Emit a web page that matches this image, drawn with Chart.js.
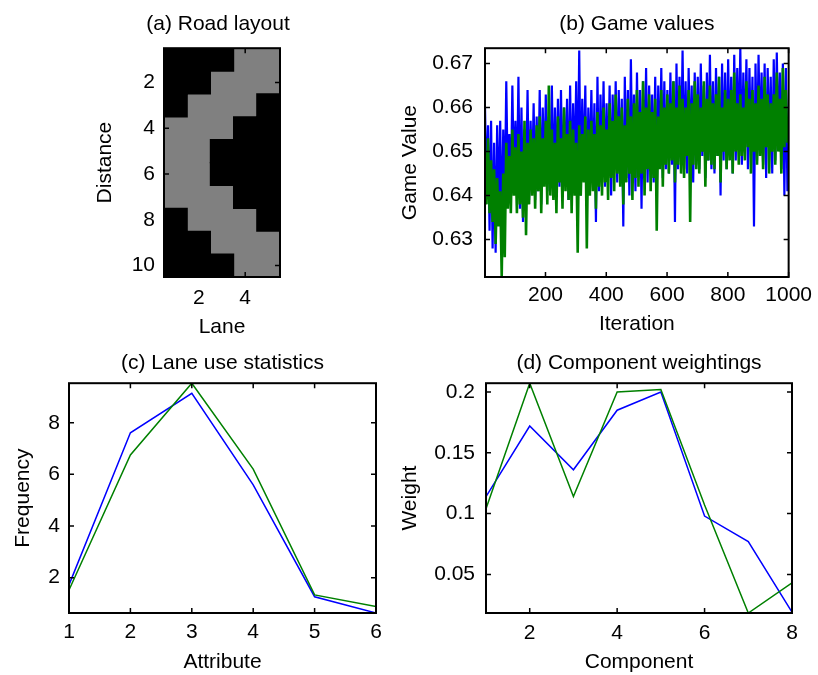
<!DOCTYPE html>
<html>
<head>
<meta charset="utf-8">
<script src="https://cdn.jsdelivr.net/npm/chart.js@4"></script>
<style>
  body { margin: 0; background: #fff; width: 818px; height: 675px; position: relative; overflow: hidden; }
  canvas { position: absolute; }
</style>
</head>
<body>
<canvas id="road" width="436" height="340" style="left:0;top:0"></canvas>
<canvas id="game" width="423" height="340" style="left:395px;top:0"></canvas>
<canvas id="lanes" width="395" height="335" style="left:0;top:340px"></canvas>
<canvas id="weights" width="423" height="335" style="left:395px;top:340px"></canvas>
<script>
// (a) road layout: 1 = road (grey), 0 = off-road (black); rows = distance, cols = lane
const roadLayout = [
  [0, 0, 0, 1, 1],
  [0, 0, 1, 1, 1],
  [0, 1, 1, 1, 0],
  [1, 1, 1, 0, 0],
  [1, 1, 0, 0, 0],
  [1, 1, 0, 0, 0],
  [1, 1, 1, 0, 0],
  [0, 1, 1, 1, 0],
  [0, 0, 1, 1, 1],
  [0, 0, 0, 1, 1]
];
const laneTicks = [2, 4];
const distanceTicks = [2, 4, 6, 8, 10];

// (b) game values, sampled every 5 iterations
const iterStep = 5;
const gameBlue = [
  0.660, 0.641, 0.656, 0.632, 0.657, 0.628, 0.652, 0.627, 0.656, 0.636,
  0.657, 0.630, 0.655, 0.638, 0.666, 0.642, 0.654, 0.640, 0.665, 0.643,
  0.657, 0.641, 0.667, 0.637, 0.660, 0.634, 0.655, 0.641, 0.664, 0.639,
  0.657, 0.643, 0.661, 0.639, 0.658, 0.641, 0.664, 0.638, 0.660, 0.643,
  0.663, 0.641, 0.658, 0.644, 0.665, 0.640, 0.660, 0.643, 0.662, 0.642,
  0.664, 0.640, 0.660, 0.645, 0.662, 0.639, 0.665, 0.642, 0.661, 0.644,
  0.666, 0.641, 0.673, 0.640, 0.662, 0.644, 0.665, 0.638, 0.660, 0.645,
  0.664, 0.643, 0.661, 0.634, 0.667, 0.641, 0.663, 0.645, 0.666, 0.642,
  0.661, 0.645, 0.665, 0.640, 0.663, 0.646, 0.666, 0.643, 0.664, 0.645,
  0.662, 0.633, 0.667, 0.644, 0.664, 0.640, 0.671, 0.645, 0.663, 0.641,
  0.668, 0.645, 0.664, 0.637, 0.666, 0.646, 0.669, 0.643, 0.665, 0.647,
  0.663, 0.643, 0.667, 0.640, 0.665, 0.647, 0.669, 0.644, 0.666, 0.646,
  0.664, 0.645, 0.668, 0.647, 0.666, 0.634, 0.670, 0.646, 0.667, 0.648,
  0.673, 0.646, 0.666, 0.645, 0.669, 0.648, 0.665, 0.643, 0.668, 0.647,
  0.667, 0.646, 0.670, 0.649, 0.665, 0.644, 0.668, 0.648, 0.672, 0.646,
  0.666, 0.645, 0.669, 0.649, 0.667, 0.640, 0.670, 0.648, 0.668, 0.646,
  0.671, 0.650, 0.667, 0.645, 0.672, 0.648, 0.669, 0.651, 0.6735, 0.647,
  0.668, 0.650, 0.671, 0.646, 0.669, 0.650, 0.667, 0.633, 0.670, 0.648,
  0.672, 0.651, 0.668, 0.647, 0.670, 0.644, 0.669, 0.650, 0.667, 0.645,
  0.671, 0.648, 0.6725, 0.651, 0.668, 0.646, 0.670, 0.640, 0.669, 0.641
];
const gameGreen = [
  0.650, 0.638, 0.653, 0.636, 0.648, 0.634, 0.646, 0.629, 0.644, 0.633,
  0.641, 0.6215, 0.645, 0.626, 0.652, 0.637, 0.649, 0.636, 0.655, 0.640,
  0.651, 0.636, 0.654, 0.638, 0.650, 0.635, 0.657, 0.631, 0.652, 0.638,
  0.655, 0.640, 0.653, 0.637, 0.656, 0.641, 0.658, 0.636, 0.653, 0.642,
  0.657, 0.638, 0.665, 0.640, 0.655, 0.639, 0.652, 0.636, 0.658, 0.643,
  0.653, 0.637, 0.660, 0.641, 0.654, 0.639, 0.657, 0.636, 0.655, 0.640,
  0.652, 0.627, 0.656, 0.640, 0.654, 0.643, 0.658, 0.628, 0.655, 0.640,
  0.657, 0.641, 0.654, 0.637, 0.659, 0.642, 0.656, 0.640, 0.660, 0.643,
  0.655, 0.639, 0.661, 0.644, 0.657, 0.641, 0.663, 0.645, 0.658, 0.642,
  0.660, 0.638, 0.656, 0.643, 0.662, 0.645, 0.658, 0.639, 0.661, 0.644,
  0.664, 0.642, 0.659, 0.645, 0.666, 0.640, 0.660, 0.646, 0.663, 0.641,
  0.659, 0.644, 0.662, 0.632, 0.658, 0.646, 0.664, 0.642, 0.660, 0.647,
  0.663, 0.645, 0.661, 0.648, 0.666, 0.643, 0.660, 0.647, 0.665, 0.645,
  0.662, 0.644, 0.660, 0.649, 0.664, 0.634, 0.661, 0.647, 0.666, 0.646,
  0.663, 0.645, 0.660, 0.650, 0.666, 0.642, 0.662, 0.648, 0.665, 0.647,
  0.661, 0.646, 0.663, 0.649, 0.667, 0.643, 0.660, 0.650, 0.664, 0.646,
  0.662, 0.648, 0.664, 0.645, 0.668, 0.650, 0.661, 0.647, 0.663, 0.649,
  0.660, 0.648, 0.666, 0.651, 0.662, 0.645, 0.664, 0.650, 0.661, 0.647,
  0.665, 0.649, 0.662, 0.646, 0.667, 0.651, 0.663, 0.645, 0.661, 0.650,
  0.663, 0.647, 0.668, 0.650, 0.662, 0.645, 0.669, 0.651, 0.664, 0.652
];
const iterTicks = [200, 400, 600, 800, 1000];
const gameTicks = [0.63, 0.64, 0.65, 0.66, 0.67];

// (c) lane use statistics
const attributes = [1, 2, 3, 4, 5, 6];
const laneBlue = [1.72, 7.61, 9.14, 5.59, 1.26, 0.63];
const laneGreen = [1.52, 6.75, 9.53, 6.2, 1.33, 0.88];
const freqTicks = [2, 4, 6, 8];

// (d) component weightings
const components = [1, 2, 3, 4, 5, 6, 7, 8];
const compBlue = [0.114, 0.172, 0.136, 0.185, 0.2, 0.098, 0.077, 0.019];
const compGreen = [0.104, 0.2072, 0.114, 0.2, 0.202, 0.107, 0.0183, 0.043];
const compTicks = [2, 4, 6, 8];
const weightTicks = [0.05, 0.1, 0.15, 0.2];

const BLUE = '#0000ff';
const GREEN = '#008000';

Chart.defaults.font.family = "'Liberation Sans', Arial, sans-serif";
Chart.defaults.font.size = 21;
Chart.defaults.color = '#000';
Chart.defaults.animation = false;
Chart.defaults.events = [];
Chart.defaults.plugins.legend.display = false;
Chart.defaults.plugins.tooltip.enabled = false;

// matlab-style box with inward ticks on all four sides
const boxTicks = {
  id: 'boxTicks',
  afterDraw(chart) {
    const {ctx, chartArea: a} = chart;
    const x = chart.scales.x, y = chart.scales.y;
    const len = 5;
    ctx.save();
    ctx.strokeStyle = '#000';
    ctx.lineWidth = 1.5;
    ctx.beginPath();
    x.ticks.forEach(t => {
      const px = x.getPixelForValue(t.value);
      ctx.moveTo(px, a.bottom); ctx.lineTo(px, a.bottom - len);
      ctx.moveTo(px, a.top); ctx.lineTo(px, a.top + len);
    });
    y.ticks.forEach(t => {
      const py = y.getPixelForValue(t.value);
      ctx.moveTo(a.left, py); ctx.lineTo(a.left + len, py);
      ctx.moveTo(a.right, py); ctx.lineTo(a.right - len, py);
    });
    ctx.stroke();
    ctx.lineWidth = 2;
    ctx.strokeRect(a.left, a.top, a.width, a.height);
    ctx.restore();
  }
};

function fixedTicks(values) {
  return s => { s.ticks = values.map(v => ({value: v})); };
}

function xAxis(o) {
  return {
    type: 'linear', min: o.min, max: o.max, offset: false,
    grid: {display: false, drawTicks: false}, border: {display: false},
    ticks: {padding: o.pad, autoSkip: false, maxRotation: 0, callback: v => String(v)},
    afterBuildTicks: fixedTicks(o.ticks),
    afterFit: s => { s.height = o.size; },
    title: {display: true, text: o.title, padding: {top: 0, bottom: o.titlePad}}
  };
}

function yAxis(o) {
  return {
    type: 'linear', min: o.min, max: o.max, reverse: !!o.reverse,
    grid: {display: false, drawTicks: false}, border: {display: false},
    ticks: {padding: o.pad, autoSkip: false, callback: v => String(v)},
    afterBuildTicks: fixedTicks(o.ticks),
    afterFit: s => { s.width = o.size; },
    title: {display: true, text: o.title, padding: {top: o.titlePad, bottom: 0}}
  };
}

function lineSet(xs, ys, color, width) {
  return {
    data: ys.map((v, i) => ({x: xs[i], y: v})),
    borderColor: color, borderWidth: width || 1.5, pointRadius: 0, tension: 0, fill: false
  };
}

// (a) Road layout
const roadCells = {black: [], grey: []};
roadLayout.forEach((row, r) => row.forEach((v, c) => {
  (v ? roadCells.grey : roadCells.black).push({x: c + 1, y: [r + 0.5, r + 1.5]});
}));

new Chart(document.getElementById('road'), {
  type: 'bar',
  data: {
    datasets: [
      {data: roadCells.black, backgroundColor: '#000'},
      {data: roadCells.grey, backgroundColor: '#808080'}
    ]
  },
  options: {
    responsive: false,
    layout: {padding: 0},
    datasets: {bar: {grouped: false, barPercentage: 1, categoryPercentage: 1, borderWidth: 0, inflateAmount: 0.6}},
    plugins: {title: {display: true, text: '(a) Road layout', padding: {top: 12, bottom: 11}, font: {weight: 'normal'}}},
    scales: {
      x: xAxis({min: 0.5, max: 5.5, ticks: laneTicks, pad: 9, size: 63, title: 'Lane', titlePad: 0}),
      y: yAxis({min: 0.5, max: 10.5, reverse: true, ticks: distanceTicks, pad: 9, size: 164, title: 'Distance', titlePad: 93}),
      spare: {
        position: 'right', display: true,
        grid: {display: false, drawTicks: false}, border: {display: false},
        ticks: {display: false},
        afterFit: s => { s.width = 156; }
      }
    }
  },
  plugins: [boxTicks]
});

// (b) Game values
const iterations = gameBlue.map((_, i) => 1 + i * iterStep);
const gameAll = gameBlue.concat(gameGreen);

new Chart(document.getElementById('game'), {
  type: 'line',
  data: {
    datasets: [
      lineSet(iterations, gameGreen, GREEN, 2.6),
      lineSet(iterations, gameBlue, BLUE, 2.2)
    ]
  },
  options: {
    responsive: false,
    layout: {padding: {left: 3, right: 26, top: 0, bottom: 0}},
    plugins: {title: {display: true, fullSize: false, text: '(b) Game values', padding: {top: 12, bottom: 11}, font: {weight: 'normal'}}},
    scales: {
      x: xAxis({min: 1, max: 1000, ticks: iterTicks, pad: 6, size: 63, title: 'Iteration', titlePad: 3}),
      y: yAxis({min: Math.min(...gameAll), max: Math.max(...gameAll), ticks: gameTicks, pad: 12, size: 87, title: 'Game Value', titlePad: 0})
    }
  },
  plugins: [boxTicks]
});

// (c) Lane use statistics
const laneAll = laneBlue.concat(laneGreen);
new Chart(document.getElementById('lanes'), {
  type: 'line',
  data: {
    datasets: [
      lineSet(attributes, laneGreen, GREEN),
      lineSet(attributes, laneBlue, BLUE)
    ]
  },
  options: {
    responsive: false,
    layout: {padding: {left: 0, right: 19, top: 0, bottom: 0}},
    plugins: {title: {display: true, fullSize: false, text: '(c) Lane use statistics', padding: {top: 11, bottom: 7}, font: {weight: 'normal'}}},
    scales: {
      x: xAxis({min: 1, max: 6, ticks: attributes, pad: 7, size: 62, title: 'Attribute', titlePad: 0}),
      y: yAxis({min: Math.min(...laneAll), max: Math.max(...laneAll), ticks: freqTicks, pad: 9, size: 69, title: 'Frequency', titlePad: 11})
    }
  },
  plugins: [boxTicks]
});

// (d) Component weightings
const compAll = compBlue.concat(compGreen);
new Chart(document.getElementById('weights'), {
  type: 'line',
  data: {
    datasets: [
      lineSet(components, compGreen, GREEN),
      lineSet(components, compBlue, BLUE)
    ]
  },
  options: {
    responsive: false,
    layout: {padding: {left: 3, right: 26, top: 0, bottom: 0}},
    plugins: {title: {display: true, fullSize: false, text: '(d) Component weightings', padding: {top: 11, bottom: 7}, font: {weight: 'normal'}}},
    scales: {
      x: xAxis({min: 1, max: 8, ticks: compTicks, pad: 8, size: 62, title: 'Component', titlePad: 0}),
      y: yAxis({min: Math.min(...compAll), max: Math.max(...compAll), ticks: weightTicks, pad: 11, size: 88, title: 'Weight', titlePad: 0})
    }
  },
  plugins: [boxTicks]
});
</script>
</body>
</html>
